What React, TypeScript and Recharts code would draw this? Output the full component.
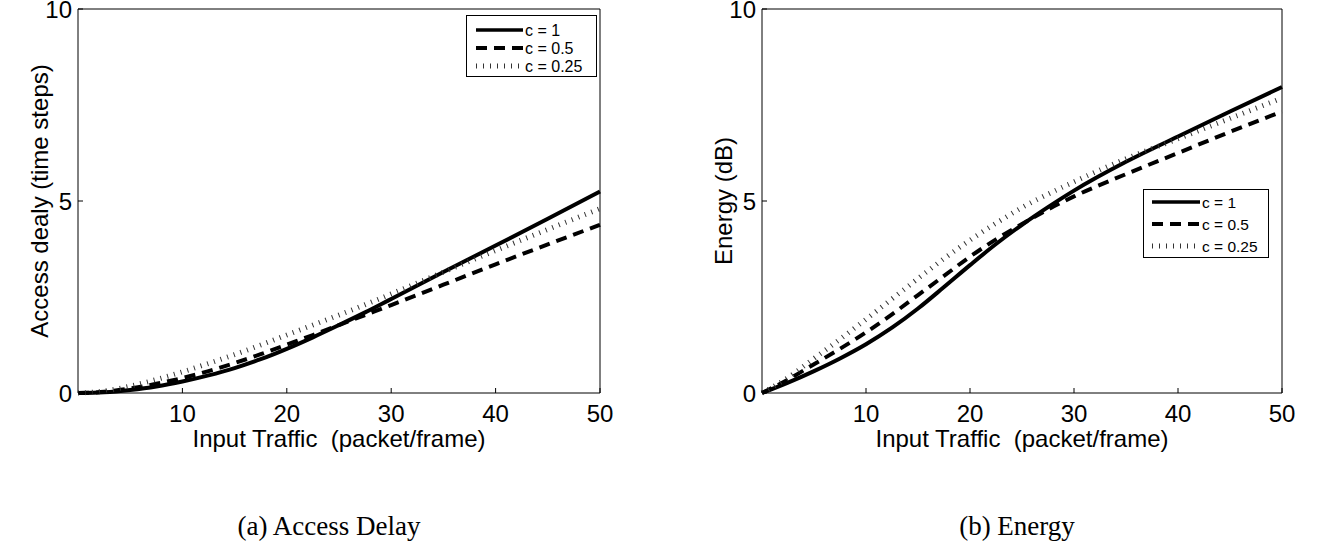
import React from 'react';
import { LineChart, Line, XAxis, YAxis, Legend } from 'recharts';

// ---------- data ----------
const traffic = [0, 2.5, 5, 7.5, 10, 12.5, 15, 17.5, 20, 22.5, 25, 27.5, 30, 35, 40, 45, 50];

const delayC1 = [0, 0.02, 0.08, 0.17, 0.3, 0.46, 0.65, 0.88, 1.15, 1.45, 1.77, 2.1, 2.45, 3.15, 3.84, 4.54, 5.25];
const delayC05 = [0, 0.03, 0.12, 0.24, 0.39, 0.57, 0.78, 1.01, 1.26, 1.51, 1.77, 2.03, 2.29, 2.82, 3.35, 3.87, 4.38];
const delayC025 = [0, 0.05, 0.18, 0.35, 0.55, 0.77, 1.0, 1.25, 1.51, 1.77, 2.03, 2.3, 2.58, 3.15, 3.71, 4.26, 4.8];

const energyC1 = [0, 0.27, 0.57, 0.9, 1.27, 1.7, 2.2, 2.76, 3.33, 3.88, 4.38, 4.84, 5.27, 6.02, 6.68, 7.33, 7.97];
const energyC05 = [0, 0.35, 0.75, 1.15, 1.58, 2.05, 2.55, 3.05, 3.55, 4.0, 4.4, 4.78, 5.12, 5.7, 6.25, 6.8, 7.33];
const energyC025 = [0, 0.4, 0.9, 1.4, 1.92, 2.45, 2.98, 3.5, 3.98, 4.42, 4.83, 5.18, 5.5, 6.1, 6.62, 7.15, 7.68];

const seriesNames = ['c = 1', 'c = 0.5', 'c = 0.25'];
const xTicks = [10, 20, 30, 40, 50];
const xTopTicks = [10, 20, 30, 40];
const yTicks = [0, 5, 10];
const yRightTicks = [5];

const xTitle = 'Input Traffic\u00A0 (packet/frame)';
const delayTitle = 'Access dealy (time steps)';
const energyTitle = 'Energy (dB)';
const captionA = '(a) Access Delay';
const captionB = '(b) Energy';

const delayData = traffic.map((x, i) => ({ x, c1: delayC1[i], c05: delayC05[i], c025: delayC025[i] }));
const energyData = traffic.map((x, i) => ({ x, c1: energyC1[i], c05: energyC05[i], c025: energyC025[i] }));

// ---------- styles ----------
const SANS = 'Liberation Sans, Arial, Helvetica, sans-serif';
const SERIF = 'Liberation Serif, Times New Roman, serif';

const seriesStyle = [
  { key: 'c1', width: 4, dash: undefined as string | undefined, color: '#000', legendWidth: 3.5 },
  { key: 'c05', width: 4, dash: '11 7', color: '#000', legendWidth: 4 },
  { key: 'c025', width: 5, dash: '1 6', color: '#333', legendWidth: 5 },
];

type LegendCfg = {
  left: number;
  top: number;
  w: number;
  h: number;
  rows: number[];
  lineX1: number;
  lineX2: number;
  textX: number;
  fontSize: number;
};

function LegendBox({ payload, cfg }: { payload?: any[]; cfg: LegendCfg }) {
  const entries = seriesStyle.map((st, i) => {
    const found = (payload || []).find((p: any) => p && p.dataKey === st.key);
    return { st, value: found ? found.value : seriesNames[i] };
  });
  return (
    <svg width={cfg.w} height={cfg.h} style={{ display: 'block' }}>
      <rect x={0.5} y={0.5} width={cfg.w - 1} height={cfg.h - 1} fill="#fff" stroke="#000" strokeWidth={1} />
      {entries.map(({ st, value }, i) => {
        const y = cfg.rows[i];
        return (
          <g key={st.key}>
            <line
              x1={cfg.lineX1}
              x2={cfg.lineX2}
              y1={y}
              y2={y}
              stroke={st.color}
              strokeWidth={st.legendWidth}
              strokeDasharray={st.dash}
            />
            <text x={cfg.textX} y={y} dominantBaseline="central" fontSize={cfg.fontSize} fontFamily={SANS} fill="#000">
              {value}
            </text>
          </g>
        );
      })}
    </svg>
  );
}

type PanelProps = {
  data: any[];
  left: number;
  width: number;
  plotRight: number; // in chart coords
  yLabel: string;
  legend: LegendCfg;
};

function Panel({ data, left, width, plotRight, yLabel, legend }: PanelProps) {
  const tickStyle = { fill: '#000', fontSize: 24, fontFamily: SANS };
  return (
    <div style={{ position: 'absolute', left, top: 0 }}>
      <LineChart
        width={width}
        height={470}
        data={data}
        margin={{ top: 8, right: width - plotRight - 1, left: 0, bottom: 17 }}
      >
        <XAxis
          xAxisId="b"
          dataKey="x"
          type="number"
          domain={[0, 50]}
          ticks={xTicks}
          interval={0}
          orientation="bottom"
          height={60}
          tickSize={-5}
          tickMargin={17}
          stroke="#000"
          tick={tickStyle}
          label={{ value: xTitle, position: 'insideBottom', offset: 6, fill: '#000', fontSize: 24, fontFamily: SANS }}
        />
        <XAxis
          xAxisId="t"
          dataKey="x"
          type="number"
          domain={[0, 50]}
          ticks={xTopTicks}
          interval={0}
          orientation="top"
          height={1}
          tickSize={-5}
          tick={false}
          stroke="#000"
        />
        <YAxis
          yAxisId="l"
          type="number"
          domain={[0, 10]}
          ticks={yTicks}
          interval={0}
          width={78}
          tickSize={-5}
          tickMargin={11}
          stroke="#000"
          tick={tickStyle}
          label={{ value: yLabel, angle: -90, position: 'center', fill: '#000', fontSize: 24, fontFamily: SANS }}
        />
        <YAxis
          yAxisId="r"
          orientation="right"
          type="number"
          domain={[0, 10]}
          ticks={yRightTicks}
          interval={0}
          width={1}
          tickSize={-5}
          tick={false}
          stroke="#000"
        />
        <Legend
          layout="vertical"
          align="center"
          verticalAlign="middle"
          wrapperStyle={{ left: legend.left, top: legend.top, width: legend.w, height: legend.h }}
          content={(p: any) => <LegendBox payload={p.payload} cfg={legend} />}
        />
        {seriesStyle.map((s, i) => (
          <Line
            key={s.key}
            xAxisId="b"
            yAxisId="l"
            type="monotone"
            dataKey={s.key}
            name={seriesNames[i]}
            stroke={s.color}
            strokeWidth={s.width}
            strokeDasharray={s.dash}
            dot={false}
            activeDot={false}
            isAnimationActive={false}
          />
        ))}
      </LineChart>
    </div>
  );
}

export default function App() {
  return (
    <div style={{ position: 'absolute', left: 0, top: 0, width: 1322, height: 548, background: '#fff', overflow: 'hidden' }}>
      <Panel
        data={delayData}
        left={0}
        width={660}
        plotRight={600}
        yLabel={delayTitle}
        legend={{ left: 466, top: 15, w: 131, h: 62, rows: [15, 33, 51], lineX1: 10, lineX2: 57, textX: 59, fontSize: 16 }}
      />
      <Panel
        data={energyData}
        left={684}
        width={638}
        plotRight={598}
        yLabel={energyTitle}
        legend={{ left: 459, top: 189, w: 126, h: 69, rows: [13, 35, 57], lineX1: 9, lineX2: 57, textX: 59, fontSize: 15.5 }}
      />
      <svg width={1322} height={548} style={{ position: 'absolute', left: 0, top: 0, pointerEvents: 'none' }}>
        <text x={329} y={535} textAnchor="middle" fontSize={27} fontFamily={SERIF} fill="#000">
          {captionA}
        </text>
        <text x={1017} y={535} textAnchor="middle" fontSize={27} fontFamily={SERIF} fill="#000">
          {captionB}
        </text>
      </svg>
    </div>
  );
}
